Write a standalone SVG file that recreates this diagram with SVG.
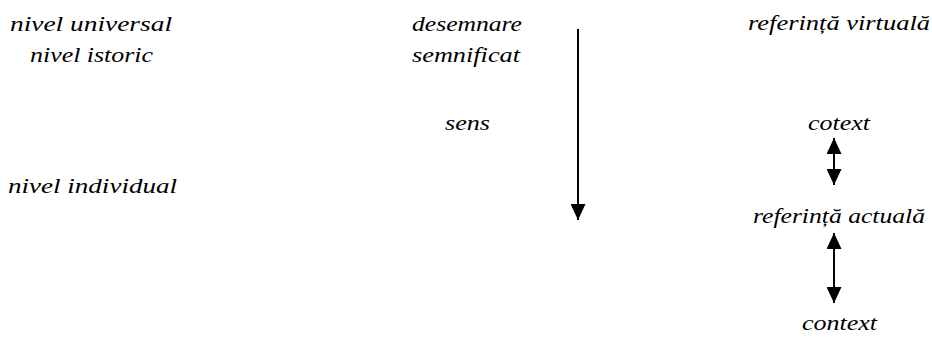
<svg xmlns="http://www.w3.org/2000/svg" width="932" height="337" viewBox="0 0 932 337">
<style>
text{font-family:"Liberation Serif","DejaVu Serif",serif;font-style:italic;font-size:20px;fill:#000}
.ln{stroke:#000;stroke-width:2;fill:none}
</style>
<defs>
<marker id="ah" viewBox="0 0 16 15" refX="16" refY="7.5" markerWidth="16" markerHeight="15" markerUnits="userSpaceOnUse" orient="auto-start-reverse"><path d="M0,0L16,7.5L0,15Z" fill="#000"/></marker>
</defs>
<rect width="932" height="337" fill="#fff"/>
<g id="nivel-universal"><text x="10" y="31" textLength="162" lengthAdjust="spacingAndGlyphs">nivel universal</text></g>
<g id="nivel-istoric"><text x="30" y="62" textLength="123" lengthAdjust="spacingAndGlyphs">nivel istoric</text></g>
<g id="nivel-individual"><text x="8" y="193" textLength="169" lengthAdjust="spacingAndGlyphs">nivel individual</text></g>
<g id="desemnare"><text x="412" y="31" textLength="110" lengthAdjust="spacingAndGlyphs">desemnare</text></g>
<g id="semnificat"><text x="412" y="62" textLength="108" lengthAdjust="spacingAndGlyphs">semnificat</text></g>
<g id="sens"><text x="445" y="130" textLength="45" lengthAdjust="spacingAndGlyphs">sens</text></g>
<g id="referinta-virtuala"><text x="748" y="30" textLength="182" lengthAdjust="spacingAndGlyphs">referință virtuală</text></g>
<g id="cotext"><text x="808" y="130" textLength="62" lengthAdjust="spacingAndGlyphs">cotext</text></g>
<g id="referinta-actuala"><text x="753" y="223" textLength="172" lengthAdjust="spacingAndGlyphs">referință actuală</text></g>
<g id="context"><text x="802" y="330" textLength="75" lengthAdjust="spacingAndGlyphs">context</text></g>
<g id="connectors">
<line class="ln" x1="578" y1="29" x2="578" y2="220" marker-end="url(#ah)"/>
<line class="ln" x1="834" y1="138" x2="834" y2="185" marker-start="url(#ah)" marker-end="url(#ah)"/>
<line class="ln" x1="834" y1="233" x2="834" y2="303" marker-start="url(#ah)" marker-end="url(#ah)"/>
</g>
</svg>
